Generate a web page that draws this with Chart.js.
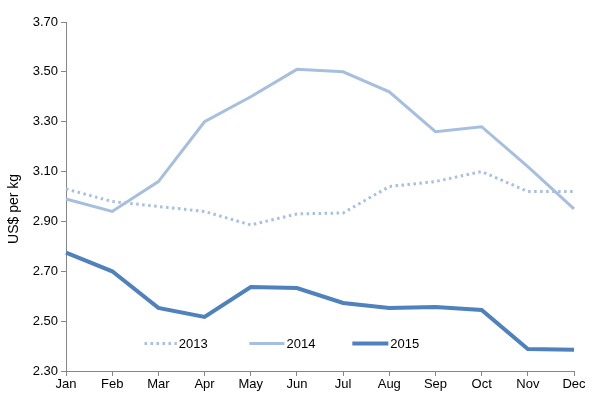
<!DOCTYPE html>
<html><head><meta charset="utf-8">
<script src="https://cdn.jsdelivr.net/npm/chart.js@4/dist/chart.umd.min.js"></script>
<style>html,body{margin:0;padding:0;background:#fff;}canvas{display:block;}</style>
</head><body>
<canvas id="c" width="604" height="420"></canvas>
<script>
const months = ["Jan","Feb","Mar","Apr","May","Jun","Jul","Aug","Sep","Oct","Nov","Dec"];
const s2013 = [3.03,2.98,2.96,2.94,2.886,2.93,2.934,3.04,3.06,3.10,3.02,3.02];
const s2014 = [2.99,2.94,3.06,3.30,3.40,3.51,3.50,3.42,3.26,3.28,3.12,2.95];
const s2015 = [2.775,2.70,2.553,2.517,2.637,2.633,2.573,2.553,2.557,2.545,2.388,2.385];
const seriesNames = ["2013","2014","2015"];
const yTitle = "US$ per kg";

const FONT = "'Liberation Sans', Arial, sans-serif";
const axisColor = "#868686";
const c2013 = "#a7bfe0", c2014 = "#a7bfdf", c2015 = "#4f81bd";

const legendPlugin = {
  id: 'inLegend',
  afterDatasetsDraw(chart) {
    const ctx = chart.ctx;
    const xs = chart.scales.x, ys = chart.scales.y;
    const y = ys.getPixelForValue(2.41);
    const items = [
      {x0: xs.getPixelForValue(1.70), x1: xs.getPixelForValue(2.40), ds: chart.data.datasets[0]},
      {x0: xs.getPixelForValue(3.97), x1: xs.getPixelForValue(4.73), ds: chart.data.datasets[1]},
      {x0: xs.getPixelForValue(6.20), x1: xs.getPixelForValue(6.98), ds: chart.data.datasets[2]}
    ];
    ctx.save();
    items.forEach(it => {
      ctx.beginPath();
      ctx.strokeStyle = it.ds.borderColor;
      ctx.lineWidth = it.ds.borderWidth;
      ctx.setLineDash(it.ds.borderDash || []);
      ctx.lineCap = 'butt';
      ctx.moveTo(it.x0, y); ctx.lineTo(it.x1, y); ctx.stroke();
      ctx.setLineDash([]);
      ctx.fillStyle = '#000';
      ctx.font = "13px " + FONT;
      ctx.textBaseline = 'middle';
      ctx.textAlign = 'left';
      ctx.fillText(it.ds.label, it.x1 + 2, y + 1);
    });
    // y axis title
    ctx.translate(14, ys.getPixelForValue(2.95));
    ctx.rotate(-Math.PI / 2);
    ctx.font = "14px " + FONT;
    ctx.textAlign = 'center';
    ctx.textBaseline = 'middle';
    ctx.fillText(yTitle, 0, 0);
    ctx.restore();
  }
};

new Chart(document.getElementById('c'), {
  type: 'line',
  data: {
    labels: months,
    datasets: [
      {label: seriesNames[0], data: s2013, borderColor: c2013, borderWidth: 3, borderDash: [2.5, 3.5], pointRadius: 0, tension: 0, fill: false},
      {label: seriesNames[1], data: s2014, borderColor: c2014, borderWidth: 3, pointRadius: 0, tension: 0, fill: false},
      {label: seriesNames[2], data: s2015, borderColor: c2015, borderWidth: 4, pointRadius: 0, tension: 0, fill: false}
    ]
  },
  options: {
    responsive: false,
    animation: false,
    layout: {padding: {left: 0, right: 30, top: 22, bottom: 0}},
    plugins: {legend: {display: false}, tooltip: {enabled: false}},
    scales: {
      x: {
        offset: false,
        grid: {display: true, drawOnChartArea: false, drawTicks: true, tickLength: 5, color: axisColor},
        border: {color: axisColor, width: 1},
        ticks: {color: '#000', font: {family: FONT, size: 13}, padding: 1, maxRotation: 0, autoSkip: false},
        afterFit(s) { s.height = 49; }
      },
      y: {
        min: 2.30, max: 3.70,
        grid: {display: true, drawOnChartArea: false, drawTicks: true, tickLength: 5, color: axisColor},
        border: {color: axisColor, width: 1},
        ticks: {stepSize: 0.2, color: '#000', font: {family: FONT, size: 13}, padding: 3,
          callback: v => v.toFixed(2)},
        title: {display: false},
        afterFit(s) { s.width = 66; }
      }
    }
  },
  plugins: [legendPlugin]
});
</script>
</body></html>
